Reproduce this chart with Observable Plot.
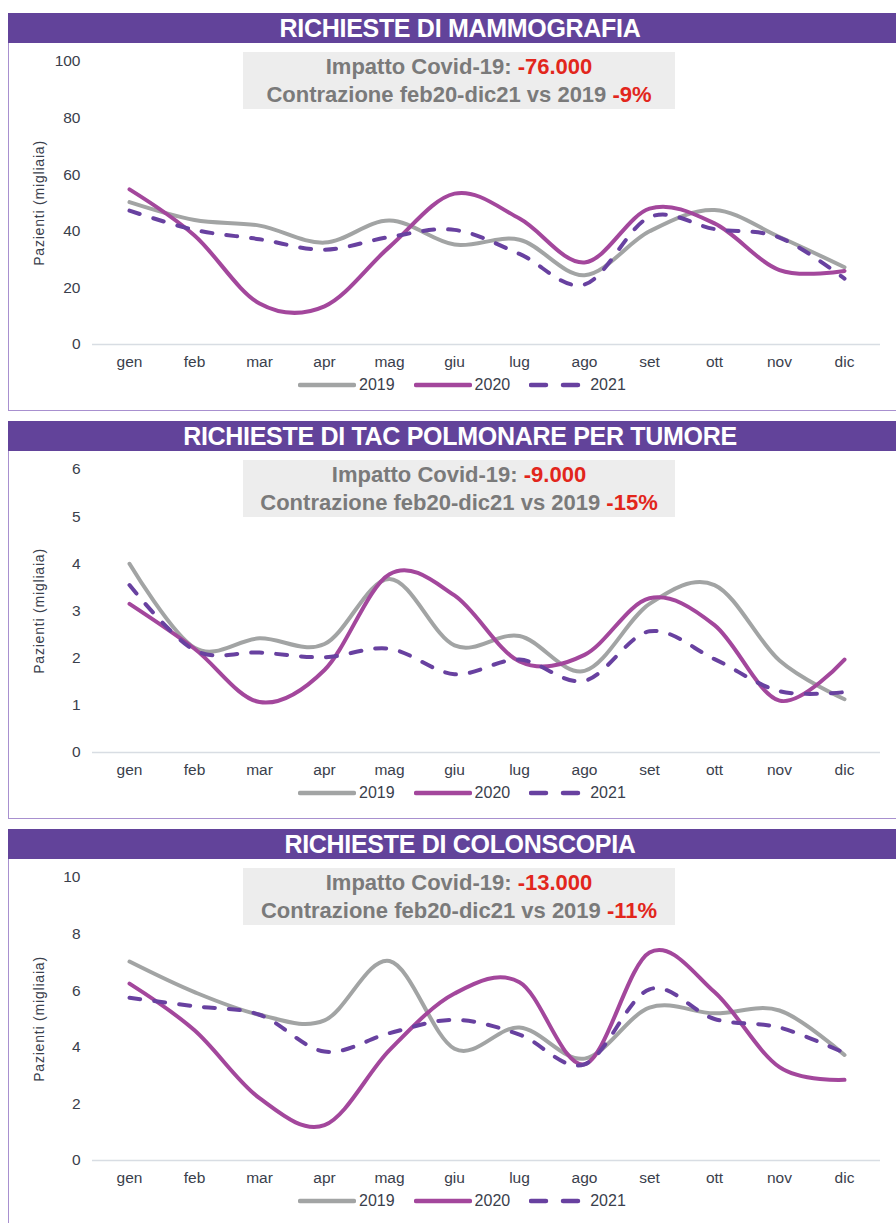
<!DOCTYPE html>
<html>
<head>
<meta charset="utf-8">
<script src="https://cdn.jsdelivr.net/npm/d3@7"></script>
<script src="https://cdn.jsdelivr.net/npm/@observablehq/plot@0.6"></script>
<style>
  html, body { margin: 0; padding: 0; background: #fff; }
  body { width: 896px; height: 1223px; overflow: hidden; position: relative; font-family: "Liberation Sans", Arial, sans-serif; }
  .bar { position: absolute; left: 8px; width: 904px; height: 30px; background: #62439a; color: #fff;
         font-weight: bold; font-size: 25px; line-height: 30px; text-align: center; letter-spacing: -0.3px; }
  .frame { position: absolute; left: 8px; width: 900px; border-left: 1.5px solid #a890cf; border-bottom: 1.5px solid #a890cf; box-sizing: border-box; }
  .note { position: absolute; left: 243px; width: 432px; height: 57px; background: #ededed; text-align: center;
          font-weight: bold; font-size: 22px; line-height: 28px; color: #7a7a7a; z-index: 3; padding-top: 1px; box-sizing: border-box; }
  .note .red { color: #e2261c; }
  .chart { position: absolute; left: 0; z-index: 2; }
  .chart g[aria-label$="tick label"] text { font-size: 15.5px; }
  .chart g[aria-label="text"] text { font-size: 14px; letter-spacing: 0.8px; }
  .legend { position: absolute; left: 298px; height: 22px; display: flex; align-items: center; font-size: 16px; color: #3a404c; z-index: 2; }
  .legend .item { display: flex; align-items: center; margin-right: 19px; }
  .legend svg { margin-right: 3px; }
</style>
</head>
<body>
<script>
const months = ["gen","feb","mar","apr","mag","giu","lug","ago","set","ott","nov","dic"];
const years = ["2019","2020","2021"];
const yearColors = ["#a2a4a4","#a3479c","#6841a0"];

// Mammografia (migliaia)
const mammo2019 = [50.3, 44, 42, 36, 43.8, 35.3, 37, 24.5, 40, 47.5, 38, 27.3];
const mammo2020 = [54.8, 38.5, 14.5, 13.5, 34.5, 53.3, 44.5, 29, 48, 42.8, 26.3, 26];
const mammo2021 = [47.3, 40.5, 37.2, 33.5, 38, 40.5, 32, 21.2, 45, 40.8, 37.8, 23.3];

// TAC polmonare (migliaia)
const tac2019 = [4.0, 2.22, 2.42, 2.3, 3.68, 2.27, 2.47, 1.73, 3.15, 3.55, 1.95, 1.13];
const tac2020 = [3.15, 2.2, 1.07, 1.75, 3.78, 3.33, 1.93, 2.07, 3.27, 2.7, 1.1, 1.97];
const tac2021 = [3.55, 2.17, 2.12, 2.02, 2.2, 1.66, 1.97, 1.52, 2.57, 1.98, 1.3, 1.28];

// Colonscopia (migliaia)
const colon2019 = [7.03, 5.95, 5.15, 4.95, 7.05, 3.95, 4.7, 3.6, 5.4, 5.2, 5.3, 3.73];
const colon2020 = [6.25, 4.6, 2.2, 1.25, 3.9, 5.9, 6.3, 3.4, 7.35, 5.95, 3.3, 2.85];
const colon2021 = [5.75, 5.45, 5.15, 3.85, 4.5, 4.97, 4.45, 3.4, 6.05, 5.0, 4.7, 3.8];

const titles = ["RICHIESTE DI MAMMOGRAFIA", "RICHIESTE DI TAC POLMONARE PER TUMORE", "RICHIESTE DI COLONSCOPIA"];
const impacts = ["-76.000", "-9.000", "-13.000"];
const contractions = ["-9%", "-15%", "-11%"];
const yMaxes = [100, 6, 10];
const yTickSets = [[0,20,40,60,80,100], [0,1,2,3,4,5,6], [0,2,4,6,8,10]];
const yLabel = "Pazienti (migliaia)";
const panelTops = [13, 421, 829];

const series = [
  [mammo2019, mammo2020, mammo2021],
  [tac2019, tac2020, tac2021],
  [colon2019, colon2020, colon2021]
];

function el(tag, cls, parent) {
  const e = document.createElement(tag);
  if (cls) e.className = cls;
  (parent || document.body).appendChild(e);
  return e;
}

function swatch(i) {
  const ns = "http://www.w3.org/2000/svg";
  const s = document.createElementNS(ns, "svg");
  s.setAttribute("width", 58); s.setAttribute("height", 10);
  const l = document.createElementNS(ns, "line");
  l.setAttribute("x1", 2); l.setAttribute("x2", 56); l.setAttribute("y1", 5); l.setAttribute("y2", 5);
  l.setAttribute("stroke", yearColors[i]); l.setAttribute("stroke-width", 4.5); l.setAttribute("stroke-linecap", "round");
  if (i === 2) l.setAttribute("stroke-dasharray", "15,17");
  s.appendChild(l);
  return s;
}

titles.forEach((title, p) => {
  const T = panelTops[p];
  const bar = el("div", "bar"); bar.style.top = T + "px"; bar.textContent = title;
  const frame = el("div", "frame"); frame.style.top = (T + 30) + "px";
  frame.style.height = (p === 2 ? 1223 - T - 30 + 10 : 368) + "px";

  const note = el("div", "note"); note.style.top = (T + 39) + "px";
  note.innerHTML = `Impatto Covid-19: <span class="red">${impacts[p]}</span><br>Contrazione feb20-dic21 vs 2019 <span class="red">${contractions[p]}</span>`;

  const data = [];
  years.forEach((y, k) => series[p][k].forEach((v, m) => data.push({month: months[m], year: y, value: v})));

  const chart = Plot.plot({
    width: 896,
    height: 330,
    marginLeft: 92,
    marginRight: 16,
    marginTop: 18,
    marginBottom: 29,
    style: {fontFamily: "'Liberation Sans', Arial, sans-serif", fontSize: "15px", color: "#3a404c", background: "transparent", overflow: "visible"},
    x: {type: "point", domain: months, padding: 0.5, label: null},
    y: {domain: [0, yMaxes[p]], label: null},
    marks: [
      Plot.ruleY([0], {stroke: "#d8dde3", strokeWidth: 1.5}),
      Plot.axisX({tickSize: 0, tickPadding: 11, label: null, fontSize: 15.5}),
      Plot.axisY({ticks: yTickSets[p], tickFormat: d3.format("d"), tickSize: 0, tickPadding: 12, label: null, fontSize: 15.5}),
      ...years.map((y, k) => Plot.line(data.filter(d => d.year === y), {
        x: "month", y: "value", stroke: yearColors[k], strokeWidth: 4, curve: "cardinal",
        strokeDasharray: k === 2 ? "11,14" : null, strokeLinecap: "round", strokeLinejoin: "round"
      })),
      Plot.text([yLabel], {frameAnchor: "left", textAnchor: "middle", dx: -53, rotate: -90, fontSize: 14, fill: "#3a404c"})
    ]
  });
  chart.classList.add("chart");
  chart.style.top = (T + 30) + "px";
  document.body.appendChild(chart);

  const leg = el("div", "legend"); leg.style.top = (T + 361) + "px";
  years.forEach((y, k) => {
    const it = el("div", "item", leg);
    it.appendChild(swatch(k));
    const sp = el("span", null, it); sp.textContent = y;
  });
});
</script>
</body>
</html>
